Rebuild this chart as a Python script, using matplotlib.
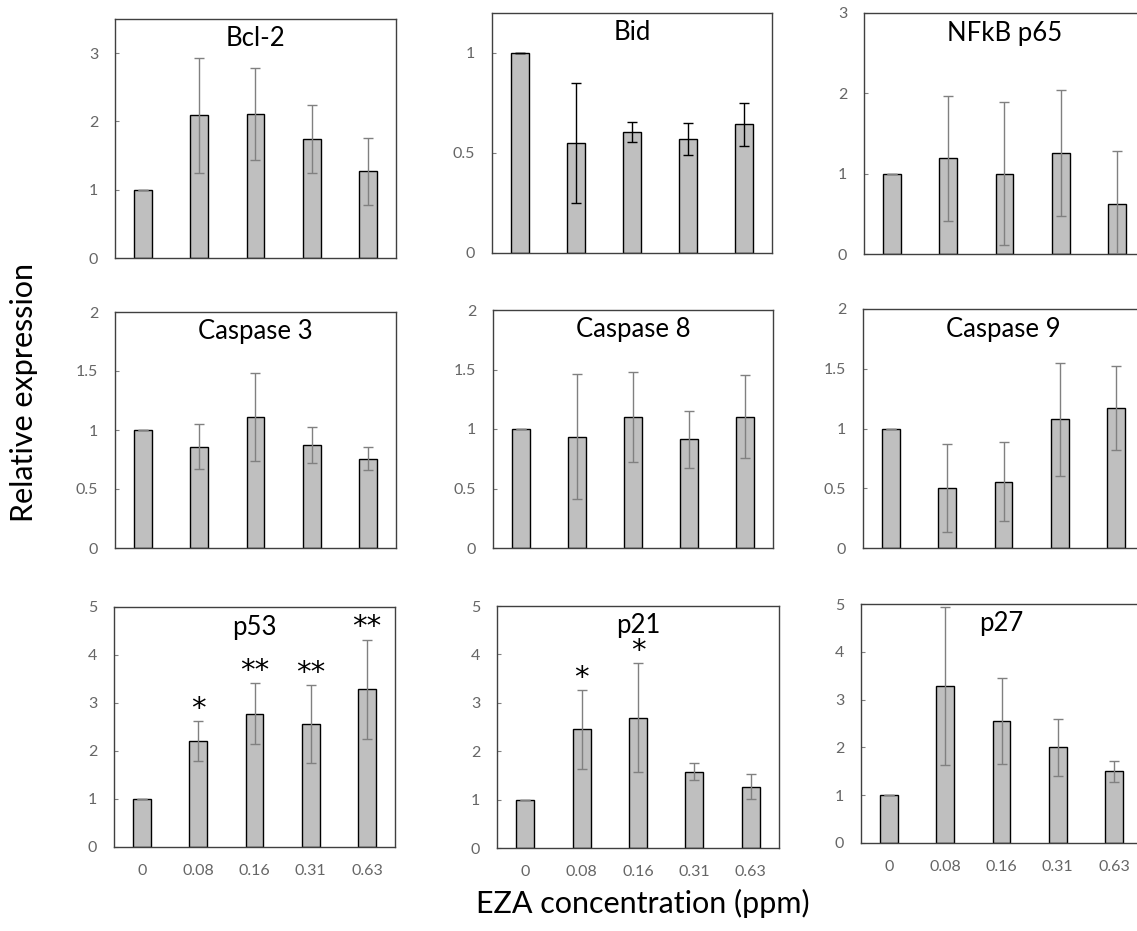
import numpy as np
import matplotlib.pyplot as plt

plt.rcParams['font.family'] = ['Lato', 'DejaVu Sans']

doses = ['0', '0.08', '0.16', '0.31', '0.63']
genes = ['Bcl-2', 'Bid', 'NFkB p65', 'Caspase 3', 'Caspase 8', 'Caspase 9', 'p53', 'p21', 'p27']

# relative expression (mean) and error per gene
bcl2 = [1.0, 2.09, 2.11, 1.74, 1.27]
bcl2_err = [0, 0.84, 0.67, 0.50, 0.49]
bid = [1.0, 0.55, 0.607, 0.572, 0.643]
bid_err = [0, 0.30, 0.05, 0.08, 0.107]
nfkb = [1.0, 1.19, 1.0, 1.255, 0.62]
nfkb_err = [0, 0.78, 0.89, 0.785, 0.665]
casp3 = [1.0, 0.858, 1.11, 0.872, 0.758]
casp3_err = [0, 0.19, 0.375, 0.15, 0.10]
casp8 = [1.0, 0.935, 1.10, 0.913, 1.105]
casp8_err = [0, 0.525, 0.378, 0.237, 0.346]
casp9 = [1.0, 0.502, 0.555, 1.077, 1.172]
casp9_err = [0, 0.368, 0.33, 0.475, 0.35]
p53 = [1.0, 2.21, 2.78, 2.56, 3.29]
p53_err = [0, 0.42, 0.63, 0.82, 1.03]
p21 = [1.0, 2.45, 2.69, 1.58, 1.27]
p21_err = [0, 0.815, 1.13, 0.166, 0.26]
p27 = [1.0, 3.29, 2.55, 2.0, 1.50]
p27_err = [0, 1.65, 0.895, 0.60, 0.217]

p53_stars = ['', '*', '**', '**', '**']
p21_stars = ['', '*', '*', '', '']
no_stars = [''] * 5

means = [bcl2, bid, nfkb, casp3, casp8, casp9, p53, p21, p27]
errs = [bcl2_err, bid_err, nfkb_err, casp3_err, casp8_err, casp9_err, p53_err, p21_err, p27_err]
stars = [no_stars] * 6 + [p53_stars, p21_stars, no_stars]
ymax = [3.5, 1.2, 3, 2, 2, 2, 5, 5, 5]
ystep = [1, 0.5, 1, 0.5, 0.5, 0.5, 1, 1, 1]

W, H = 1137, 931
fig = plt.figure(figsize=(W / 100, H / 100), dpi=100)

# panel boxes in pixels: left, top, right, bottom
boxes = [(115, 19, 396, 258), (492, 13, 772, 253), (864, 13, 1145, 254),
         (115, 312, 396, 548), (493, 310, 773, 548), (863, 309, 1144, 548),
         (114, 607, 395, 847), (497, 606, 779, 848), (861, 604, 1142, 843)]

x = np.arange(len(doses))
for i, gene in enumerate(genes):
    l, t, r, b = boxes[i]
    ax = fig.add_axes([l / W, 1 - b / H, (r - l) / W, (b - t) / H])
    ecol = 'black' if gene == 'Bid' else '#808080'
    ax.bar(x, means[i], width=0.32, color='#bfbfbf', edgecolor='black', linewidth=1, zorder=2)
    ax.errorbar(x, means[i], yerr=errs[i], fmt='none', ecolor=ecol, elinewidth=1,
                capsize=3.6, capthick=1, zorder=3)
    for xi, m, e, s in zip(x, means[i], errs[i], stars[i]):
        if s:
            ax.annotate(s, (xi, m + e), xytext=(0, 3), textcoords='offset points',
                        ha='center', va='baseline', fontsize=21, family='DejaVu Sans')
    ax.set_xlim(-0.5, 4.5)
    ax.set_ylim(0, ymax[i])
    ax.set_yticks(np.arange(0, ymax[i] + 1e-9, ystep[i]))
    ax.yaxis.set_major_formatter(lambda v, p: f'{v:g}')
    ax.tick_params(axis='y', direction='in', length=3, pad=12, labelsize=11.5,
                   labelcolor='#666666', color='#808080')
    if i >= 6:
        ax.set_xticks(x, doses)
        ax.tick_params(axis='x', length=0, pad=12, labelsize=11.5, labelcolor='#666666')
    else:
        ax.set_xticks([])
    for sp in ax.spines.values():
        sp.set_color('#404040')
        sp.set_linewidth(1)
    ax.text(0.5, 1 - 20 / (b - t), gene, transform=ax.transAxes, ha='center', va='center',
            fontsize=18.5)

fig.text(24 / W, 1 - 392 / H, 'Relative expression', rotation=90, ha='center', va='center',
         fontsize=22)
fig.text(643 / W, 1 - 903 / H, 'EZA concentration (ppm)', ha='center', va='center', fontsize=22)

fig.savefig('out.png', dpi=100)
